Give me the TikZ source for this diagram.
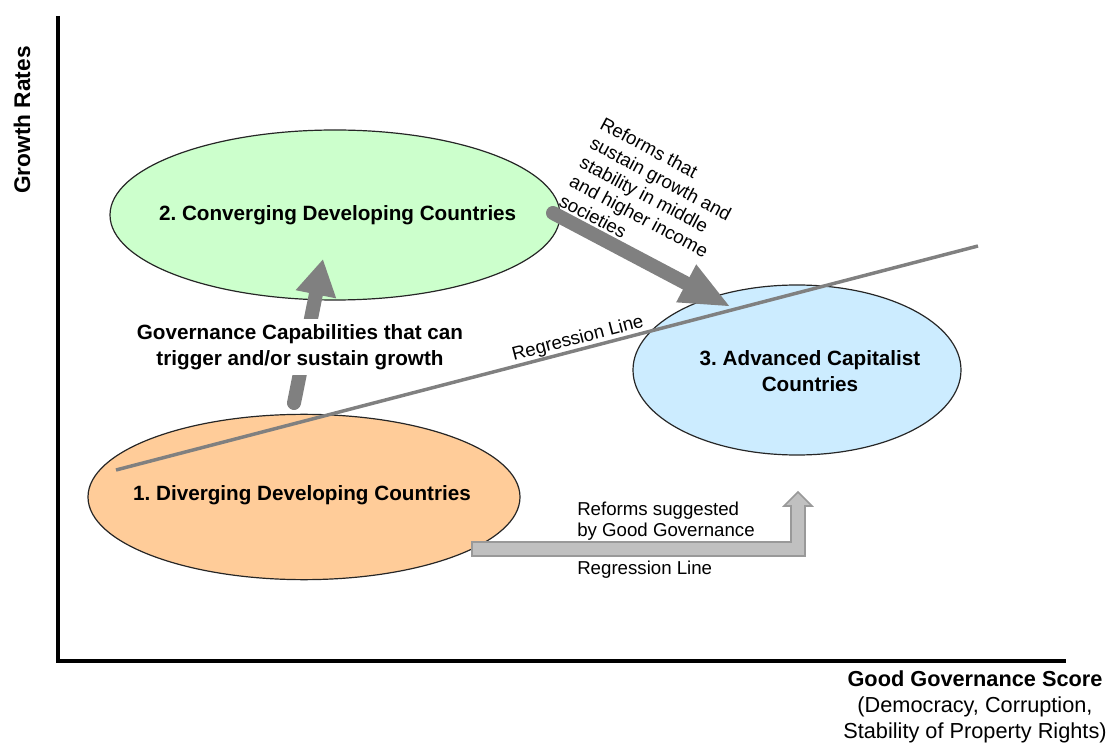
\documentclass[tikz,border=0pt]{standalone}
\usepackage{fontspec}
\setmainfont{Liberation Sans}
\usetikzlibrary{arrows.meta,shapes.geometric}
\definecolor{gfill}{HTML}{CCFFCC}
\definecolor{ofill}{HTML}{FFCC99}
\definecolor{bfill}{HTML}{CCECFF}
\definecolor{darrow}{HTML}{808080}
\definecolor{larrow}{HTML}{C0C0C0}
\definecolor{larrowedge}{HTML}{999999}
\frenchspacing
\tikzset{
  blob/.style={ellipse, draw=black!85, line width=0.9pt, inner sep=0pt},
  boldlabel/.style={font=\bfseries\fontsize{15.5}{19.5}\selectfont, align=center, inner sep=0pt},
  plainlabel/.style={font=\fontsize{14}{15.5}\selectfont, align=left, inner sep=0pt},
  fatarrow/.style={draw=darrow, line width=10.5pt, line cap=round},
  axis/.style={line width=2.3pt, black},
}
\begin{document}
\begin{tikzpicture}[x=0.75pt,y=-0.75pt]
\useasboundingbox (0,0) rectangle (1115,745);

% axes
\coordinate (ytop) at (58,16);
\coordinate (origin) at (58,661);
\coordinate (xend) at (1066,661);
\draw[axis] (ytop) -- (origin) -- (xend);
\node[font=\bfseries\fontsize{17}{20}\selectfont, rotate=90, inner sep=0pt] (ylab) at (22,120) {Growth Rates};
\node[font=\fontsize{16.3}{19.5}\selectfont, align=center, inner sep=0pt] (xlab) at (975,707)
  {\textbf{Good Governance Score}\\(Democracy, Corruption,\\Stability of Property Rights)};

% ellipses
\node[blob, fill=gfill, minimum width=337.5pt, minimum height=127.5pt] (green) at (335,215) {};
\node[blob, fill=ofill, minimum width=324pt, minimum height=124pt] (orange) at (304,497) {};
\node[blob, fill=bfill, minimum width=246pt, minimum height=127.5pt] (blue) at (797,370) {};

% bottom L-shaped arrow
\coordinate (b1) at (472,542);
\coordinate (b2) at (791,542);
\coordinate (b3) at (791,506);
\coordinate (b4) at (784,506);
\coordinate (btip) at (798,492);
\coordinate (b6) at (812,506);
\coordinate (b7) at (805,506);
\coordinate (b8) at (805,556);
\coordinate (b9) at (472,556);
\draw[fill=larrow, draw=larrowedge, line width=1.2pt, line join=miter]
  (b1) -- (b2) -- (b3) -- (b4) -- (btip) -- (b6) -- (b7) -- (b8) -- (b9) -- cycle;

% upward arrow
\coordinate (ustart) at (294,403);
\coordinate (utip) at (323,259);
\draw[fatarrow, -{Triangle[width=29pt,length=27pt]}] (ustart) -- (utip);

% diagonal arrow
\coordinate (dstart) at (553,213);
\coordinate (dtip) at (731,307);
\draw[fatarrow, -{Triangle[width=29pt,length=38pt]}] (dstart) -- (dtip);

% regression line
\coordinate (r1) at (116,470);
\coordinate (r2) at (978,246);
\draw[darrow, line width=2.6pt] (r1) -- (r2);

% labels
\node[boldlabel] (glab) at (green.center) [xshift=2pt] {2. Converging Developing Countries};
\node[boldlabel] (olab) at (302,495) {1. Diverging Developing Countries};
\node[boldlabel] (blab) at (810,371) {3. Advanced Capitalist\\Countries};
\node[boldlabel, fill=white, inner sep=4pt] (caplab) at (300,347)
  {Governance Capabilities that can\\trigger and/or sustain growth};
\node[plainlabel, rotate=14.5] (reglab) at (578,339) {Regression Line};
\node[plainlabel, anchor=north west, rotate=-28, font=\fontsize{14}{16.3}\selectfont] (reflab) at (605,116)
  {Reforms that\\sustain growth and\\stability in middle\\and higher income\\societies};
\node[plainlabel, anchor=west] (sugg) at (577,521) {Reforms suggested\\by Good Governance};
\node[plainlabel, anchor=west] (reg2) at (577,570) {Regression Line};
\end{tikzpicture}
\end{document}
